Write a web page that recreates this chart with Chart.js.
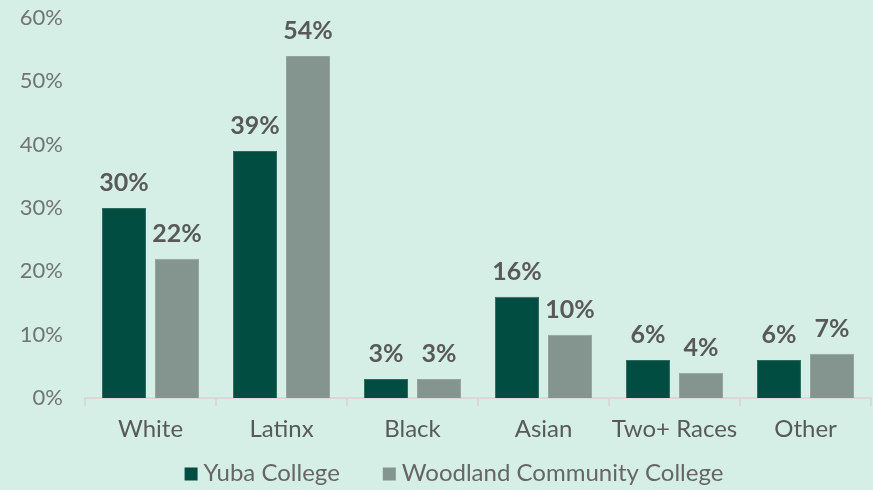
<!DOCTYPE html>
<html>
<head>
<meta charset="utf-8">
<script src="https://cdn.jsdelivr.net/npm/chart.js@4/dist/chart.umd.min.js"></script>
<style>
  html, body { margin: 0; padding: 0; background: #d5efe6; }
  #wrap { width: 873px; height: 490px; }
</style>
</head>
<body>
<div id="wrap"><canvas id="myChart"></canvas></div>
<script>
const categories = ['White', 'Latinx', 'Black', 'Asian', 'Two+ Races', 'Other'];
const yubaValues = [30, 39, 3, 16, 6, 6];
const woodlandValues = [22, 54, 3, 10, 4, 7];
const yTicks = [0, 10, 20, 30, 40, 50, 60];

const FONT = 'Lato, "Open Sans", sans-serif';

// draws the % labels above each bar
const barLabels = {
    id: 'barLabels',
    afterDatasetsDraw(chart) {
        const ctx = chart.ctx;
        ctx.save();
        ctx.font = 'bold 25px ' + FONT;
        ctx.fillStyle = '#595959';
        ctx.textAlign = 'center';
        ctx.textBaseline = 'middle';
        chart.data.datasets.forEach((ds, i) => {
            chart.getDatasetMeta(i).data.forEach((bar, j) => {
                ctx.fillText(ds.data[j] + '%', bar.x, bar.y - 25);
            });
        });
        ctx.restore();
    }
};

// simple legend under the axis, tighter box/text spacing than the built-in one
const bottomLegend = {
    id: 'bottomLegend',
    afterDraw(chart) {
        const ctx = chart.ctx;
        const box = 13, gap = 6, itemGap = 43;
        const y = 473;
        ctx.save();
        ctx.font = '24px ' + FONT;
        ctx.textBaseline = 'middle';
        ctx.textAlign = 'left';
        const items = chart.data.datasets.map(ds => ({
            text: ds.label,
            color: ds.backgroundColor,
            w: box + gap + ctx.measureText(ds.label).width
        }));
        const total = items.reduce((s, it) => s + it.w, 0) + itemGap * (items.length - 1);
        const area = chart.chartArea;
        let x = (area.left + area.right) / 2 - 24 - total / 2;
        items.forEach(it => {
            ctx.fillStyle = it.color;
            ctx.fillRect(x, y - box / 2 + 1, box, box);
            ctx.fillStyle = '#666666';
            ctx.fillText(it.text, x + box + gap, y);
            x += it.w + itemGap;
        });
        ctx.restore();
    }
};

const ctx = document.getElementById('myChart').getContext('2d');
new Chart(ctx, {
    type: 'bar',
    data: {
        labels: categories,
        datasets: [{
            label: 'Yuba College',
            data: yubaValues,
            backgroundColor: '#024d41',
            borderColor: '#2f6a5e',
            borderWidth: 1,
            categoryPercentage: 0.81,
            barPercentage: 0.83
        }, {
            label: 'Woodland Community College',
            data: woodlandValues,
            backgroundColor: '#83958e',
            borderColor: '#93a59e',
            borderWidth: 1,
            categoryPercentage: 0.81,
            barPercentage: 0.83
        }]
    },
    options: {
        responsive: true,
        maintainAspectRatio: false,
        animation: false,
        layout: { padding: { top: 18, right: 2, left: 0, bottom: 51 } },
        plugins: {
            tooltip: { enabled: false },
            legend: { display: false }
        },
        scales: {
            x: {
                offset: true,
                border: { display: true, color: '#d9d9d9', width: 2 },
                grid: { display: true, drawOnChartArea: false, color: '#d9d9d9', tickLength: 8, offset: true, lineWidth: 2 },
                ticks: {
                    font: { family: FONT, size: 24 },
                    color: '#595959',
                    padding: 9,
                    autoSkip: false,
                    minRotation: 0,
                    maxRotation: 0
                },
                afterFit: s => { s.height = 41; }
            },
            y: {
                min: 0,
                max: 60,
                border: { display: false },
                grid: { display: false },
                afterBuildTicks: s => { s.ticks = yTicks.map(v => ({ value: v })); },
                ticks: {
                    font: { family: FONT, size: 22 },
                    color: '#737373',
                    padding: 14,
                    callback: v => v + '%'
                },
                afterFit: s => { s.width = 85; s.paddingTop = 0; s.paddingBottom = 0; }
            }
        }
    },
    plugins: [barLabels, bottomLegend]
});
</script>
</body>
</html>
